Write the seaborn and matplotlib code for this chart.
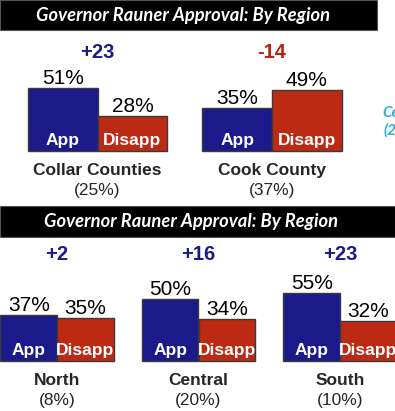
import pandas as pd
import matplotlib.pyplot as plt
import seaborn as sns
from matplotlib.patches import Rectangle

# --- data ---
top_regions = ['Collar Counties', 'Cook County']
top_shares = ['(25%)', '(37%)']
top_app = [51, 35]
top_disapp = [28, 49]

bot_regions = ['North', 'Central', 'South']
bot_shares = ['(8%)', '(20%)', '(10%)']
bot_app = [37, 50, 55]
bot_disapp = [35, 34, 32]

responses = ['App', 'Disapp']
title = 'Governor Rauner Approval: By Region'

BLUE = '#1b1a8a'
RED = '#bd2a14'
W, H = 395, 411

sns.set_style('white')
plt.rcParams['font.family'] = ['Liberation Sans', 'DejaVu Sans']

fig = plt.figure(figsize=(W / 100, H / 100), dpi=100)
fig.patch.set_facecolor('white')


def px_rect(x0, y0, x1, y1):
    # pixel box (from top-left) -> figure fraction rect
    return [x0 / W, 1 - y1 / H, (x1 - x0) / W, (y1 - y0) / H]


def title_bar(x0, y0, x1, y1, xc):
    fig.add_artist(Rectangle((x0 / W, 1 - y1 / H), (x1 - x0) / W, (y1 - y0) / H,
                             transform=fig.transFigure, facecolor='black',
                             edgecolor='#555555', lw=0.8))
    fig.text(xc / W, 1 - (y0 + y1) / 2 / H, title, color='white', ha='center',
             va='center', fontsize=13.2, fontweight='bold', fontstyle='italic',
             family=['Lato', 'DejaVu Sans'])


def panel(rect, regions, shares, app, disapp, xlim, ylim, diff_y):
    ax = fig.add_axes(rect)
    df = pd.DataFrame({
        'region': regions * 2,
        'resp': ['App'] * len(regions) + ['Disapp'] * len(regions),
        'value': app + disapp,
    })
    sns.barplot(data=df, x='region', y='value', hue='resp', hue_order=responses,
                palette=[BLUE, RED], width=0.8, edgecolor='#3a3a3a', linewidth=1,
                saturation=1, legend=False, ax=ax)
    for cont, lab in zip(ax.containers, responses):
        ax.bar_label(cont, labels=[f'{v:.0f}%' for v in cont.datavalues],
                     padding=0, fontsize=15, color='black')
        for p in cont:
            ax.annotate(lab, (p.get_x() + p.get_width() / 2, 0),
                        xytext=(0, 2.5), textcoords='offset points',
                        ha='center', va='bottom', color='white',
                        fontsize=12.5, fontweight='bold')
    for i, (a, d) in enumerate(zip(app, disapp)):
        diff = a - d
        ax.text(i, diff_y, f'{diff:+d}', ha='center', va='center',
                fontsize=14.5, fontweight='bold', color=BLUE if diff > 0 else '#c0200f')
        ax.text(i, -15.5, regions[i], ha='center', va='center',
                fontsize=12.5, fontweight='bold')
        ax.text(i, -31.5, shares[i], ha='center', va='center', fontsize=12.5)
    ax.set_xlim(*xlim)
    ax.set_ylim(*ylim)
    ax.axis('off')
    return ax


title_bar(0, 0, 377, 30, 183)
panel(px_rect(0, 30, W, 205), top_regions, top_shares, top_app, top_disapp,
      (-97.5 / 174.5, (W - 97.5) / 174.5), (-54 / 1.24, 121 / 1.24), 98 / 1.24)

# clipped label from the neighbouring chart on the slide
fig.text(382 / W, 1 - 113 / H, 'Central', color='#29abe2', fontsize=11,
         fontweight='bold', fontstyle='italic', va='center',
         family=['Lato', 'DejaVu Sans'])
fig.text(383 / W, 1 - 130 / H, '(20%)', color='#29abe2', fontsize=11,
         fontweight='bold', fontstyle='italic', va='center',
         family=['Lato', 'DejaVu Sans'])

title_bar(0, 206, W, 237, 191)
panel(px_rect(0, 237, W, H), bot_regions, bot_shares, bot_app, bot_disapp,
      (-57 / 141.5, (W - 57) / 141.5), (-50 / 1.24, 124 / 1.24), 106 / 1.24)

fig.savefig('out.png', dpi=100)
